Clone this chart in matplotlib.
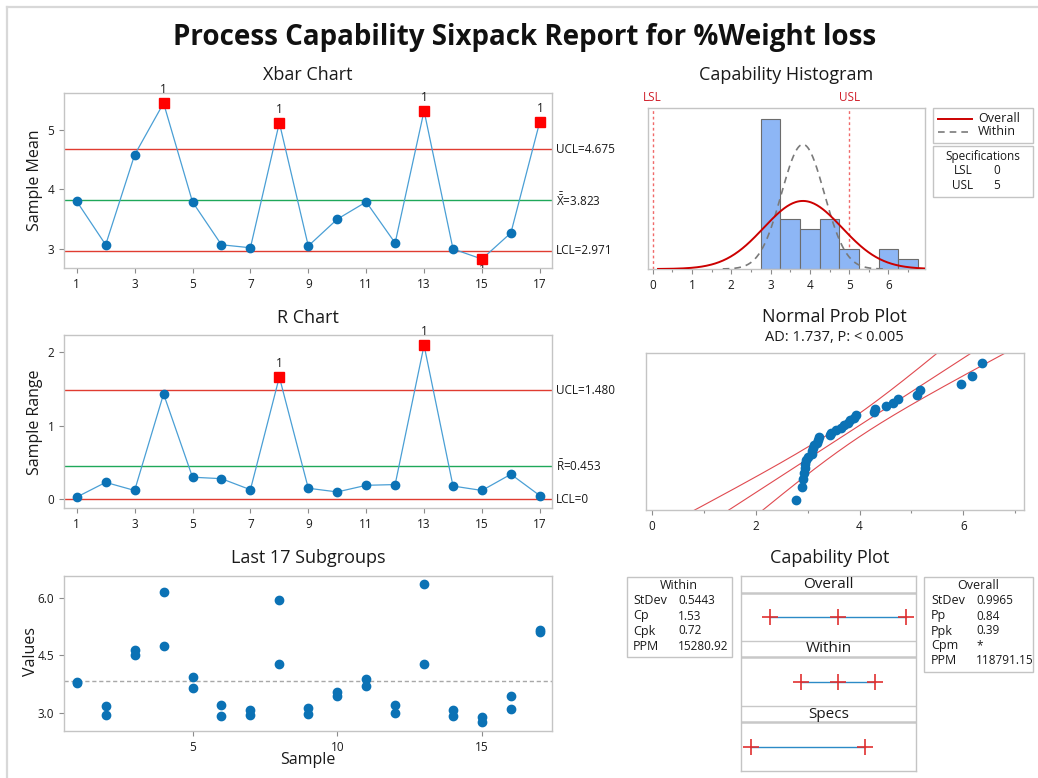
import math
from statistics import NormalDist

import numpy as np
import matplotlib
matplotlib.use("Agg")
import matplotlib.pyplot as plt
from matplotlib.patches import Rectangle

# ---------------------------------------------------------------- data
subgroup = np.arange(1, 18)
obs_a = [3.815, 3.185, 4.64, 6.165, 3.94, 3.21, 3.085, 5.95, 3.125,
         3.55, 3.885, 3.20, 6.365, 3.09, 2.89, 3.44, 5.165]
obs_b = [3.785, 2.955, 4.52, 4.735, 3.64, 2.93, 2.955, 4.29, 2.975,
         3.45, 3.695, 3.00, 4.275, 2.91, 2.77, 3.10, 5.115]

xbar_ucl, xbar_cl, xbar_lcl = 4.675, 3.823, 2.971
r_ucl, r_cl, r_lcl = 1.480, 0.453, 0.0
lsl, usl = 0, 5
sd_within, sd_overall = 0.5443, 0.9965
ad_stat, ad_p = "1.737", "< 0.005"

within_stats = [("StDev", "0.5443"), ("Cp", "1.53"), ("Cpk", "0.72"),
                ("PPM", "15280.92")]
overall_stats = [("StDev", "0.9965"), ("Pp", "0.84"), ("Ppk", "0.39"),
                 ("Cpm", "*"), ("PPM", "118791.15")]

# ---------------------------------------------------------------- style
FONT = ["Open Sans", "DejaVu Sans"]
plt.rcParams["font.family"] = FONT
plt.rcParams["mathtext.fontset"] = "custom"
plt.rcParams["mathtext.rm"] = "Open Sans"
plt.rcParams["mathtext.it"] = "Open Sans"

BLUE_PT = "#0B72B5"
BLUE_LN = "#4A9FD5"
RED_LIM = "#E03C31"
GREEN_CL = "#1FA85A"
SPINE = "#C4C4C4"
TXT = "#1A1A1A"

W, H = 1038, 778
fig = plt.figure(figsize=(W / 100, H / 100), dpi=100)


def rect(l, t, r, b):
    return [l / W, 1 - b / H, (r - l) / W, (b - t) / H]


def style(ax, labelsize=8.5):
    for s in ax.spines.values():
        s.set_color(SPINE)
        s.set_linewidth(1.0)
    ax.tick_params(colors="#8C8C8C", labelcolor=TXT, labelsize=labelsize,
                   length=3.5, width=0.8)
    ax.tick_params(which="minor", colors="#8C8C8C", length=2.5, width=0.8)


# overlay for free-floating text, boxes and frame
ov = fig.add_axes([0, 0, 1, 1], zorder=0)
ov.set_xlim(0, W)
ov.set_ylim(H, 0)
ov.axis("off")


def ptext(x, y, s, **kw):
    kw.setdefault("ha", "center")
    kw.setdefault("va", "center")
    kw.setdefault("color", TXT)
    ov.text(x, y, s, **kw)


ov.plot([7, W], [6.5, 6.5], color="#D8D8D8", lw=1.6)
ov.plot([7, 7], [6.5, H], color="#D8D8D8", lw=1.6)

ptext(525, 37, "Process Capability Sixpack Report for %Weight loss",
      fontsize=20, fontweight="bold", color="#111111")

means = (np.array(obs_a) + np.array(obs_b)) / 2
ranges = np.abs(np.array(obs_a) - np.array(obs_b))

XLIM = (0.56, 17.42)
odd_ticks = np.arange(1, 18, 2)


def control_chart(ax, values, ucl, cl, lcl, ylim, yticks, cl_label,
                  ucl_fmt, lcl_fmt):
    ax.plot(subgroup, values, color=BLUE_LN, lw=0.9, zorder=2)
    ax.axhline(ucl, color=RED_LIM, lw=1.0, zorder=1)
    ax.axhline(lcl, color=RED_LIM, lw=1.0, zorder=1)
    ax.axhline(cl, color=GREEN_CL, lw=1.0, zorder=1)
    bad = (values > ucl) | (values < lcl)
    ax.plot(subgroup[~bad], values[~bad], "o", color=BLUE_PT, ms=6,
            zorder=3)
    ax.plot(subgroup[bad], values[bad], "s", color="#FF0000", ms=6.5,
            zorder=4)
    for x, v in zip(subgroup[bad], values[bad]):
        if v > ucl:
            ax.annotate("1", (x, v), xytext=(0, 5), textcoords="offset points",
                        ha="center", va="bottom", fontsize=8.5, color=TXT)
        else:
            t = ax.text(x, v, "1", ha="center", va="top", fontsize=8.5,
                        color=TXT, clip_on=True)
            t.set_position((x, v - 0.06))
    ax.set_xlim(*XLIM)
    ax.set_ylim(*ylim)
    ax.set_xticks(odd_ticks)
    ax.set_yticks(yticks)
    style(ax)
    for val, lab in ((ucl, ucl_fmt), (cl, cl_label), (lcl, lcl_fmt)):
        ax.annotate(lab, (1, val), xycoords=("axes fraction", "data"),
                    xytext=(3, 0), textcoords="offset points",
                    ha="left", va="center", fontsize=8.5, color=TXT)


# ---------------------------------------------------------------- Xbar
ax_x = fig.add_axes(rect(64, 93, 552, 268))
control_chart(ax_x, means, xbar_ucl, xbar_cl, xbar_lcl, (2.68, 5.62),
              [3, 4, 5], r"$\bar{\bar{\mathrm{X}}}$" + f"={xbar_cl:.3f}",
              f"UCL={xbar_ucl:.3f}", f"LCL={xbar_lcl:.3f}")
ptext(308, 75, "Xbar Chart", fontsize=13)
ptext(35, 180, "Sample Mean", fontsize=11.5, rotation=90)

# ---------------------------------------------------------------- R
ax_r = fig.add_axes(rect(64, 335, 552, 508))
control_chart(ax_r, ranges, r_ucl, r_cl, r_lcl, (-0.118, 2.23),
              [0, 1, 2], r"$\bar{\mathrm{R}}$" + f"={r_cl:.3f}",
              f"UCL={r_ucl:.3f}", "LCL=0")
ptext(308, 318, "R Chart", fontsize=13)
ptext(35, 422, "Sample Range", fontsize=11.5, rotation=90)

# ---------------------------------------------------------------- last subgroups
ax_l = fig.add_axes(rect(64, 576, 552, 731))
ax_l.plot(subgroup, obs_a, "o", color=BLUE_PT, ms=6, zorder=3)
ax_l.plot(subgroup, obs_b, "o", color=BLUE_PT, ms=6, zorder=3)
ax_l.axhline(xbar_cl, color="#A8A8A8", lw=1.0, ls=(0, (3, 2)), zorder=1)
ax_l.set_xlim(*XLIM)
ax_l.set_ylim(2.53, 6.574)
ax_l.set_xticks([5, 10, 15])
ax_l.set_yticks([3.0, 4.5, 6.0])
ax_l.set_yticklabels(["3.0", "4.5", "6.0"])
style(ax_l)
ptext(308, 558, "Last 17 Subgroups", fontsize=13)
ptext(31, 652, "Values", fontsize=11.5, rotation=90)
ptext(308, 760, "Sample", fontsize=11.5)

# ---------------------------------------------------------------- histogram
all_obs = np.array(obs_a + obs_b)
n_obs = len(all_obs)
bin_w = 0.5
bins = np.arange(2.75, 6.76, bin_w)
ax_h = fig.add_axes(rect(648, 108, 925, 269))
ax_h.hist(all_obs, bins=bins, color="#8DB6F5", edgecolor="#6C6C6C", lw=0.8,
          zorder=2)


def npdf(x, mu, sd):
    return np.exp(-0.5 * ((x - mu) / sd) ** 2) / (sd * math.sqrt(2 * math.pi))


xs_o = np.linspace(xbar_cl - 3.7 * sd_overall, xbar_cl + 3.7 * sd_overall, 300)
xs_w = np.linspace(xbar_cl - 3.75 * sd_within, xbar_cl + 3.75 * sd_within, 300)
ax_h.plot(xs_w, n_obs * bin_w * npdf(xs_w, xbar_cl, sd_within),
          color="#7A7A7A", lw=1.2, ls=(0, (4, 3)), zorder=3)
ax_h.plot(xs_o, n_obs * bin_w * npdf(xs_o, xbar_cl, sd_overall),
          color="#CC0000", lw=1.4, zorder=4)
for spec, lab in ((lsl, "LSL"), (usl, "USL")):
    ax_h.axvline(spec, color="#F06A6A", lw=1.0, ls=(0, (2, 2)), zorder=1)
    ax_h.annotate(lab, (spec, 1), xycoords=("data", "axes fraction"),
                  xytext=(0, 3), textcoords="offset points", ha="center",
                  va="bottom", fontsize=8.5, color="#D01F2A")
ax_h.set_xlim(-0.12, 6.93)
ax_h.set_ylim(0, 16.1)
ax_h.set_xticks(range(0, 7))
ax_h.set_xticks(np.arange(0.5, 7, 1.0), minor=True)
ax_h.set_yticks([])
style(ax_h)
ptext(786, 75, "Capability Histogram", fontsize=13)

# legend boxes
ov.add_patch(Rectangle((933, 108), 100, 35, fill=False, ec=SPINE, lw=1.0))
ov.plot([938, 972], [119, 119], color="#CC0000", lw=1.4)
ov.plot([938, 972], [131.5, 131.5], color="#7A7A7A", lw=1.2, ls=(0, (4, 3)))
ptext(978, 118.5, "Overall", fontsize=9, ha="left")
ptext(978, 131, "Within", fontsize=9, ha="left")
ov.add_patch(Rectangle((933, 146), 100, 51, fill=False, ec=SPINE, lw=1.0))
ptext(983, 156, "Specifications", fontsize=8.5)
ptext(963, 170, "LSL", fontsize=8.5)
ptext(997, 170, f"{lsl}", fontsize=8.5)
ptext(963, 185.5, "USL", fontsize=8.5)
ptext(997, 185.5, f"{usl}", fontsize=8.5)

# ---------------------------------------------------------------- normal probability plot
nd = NormalDist()
sorted_obs = np.sort(all_obs)
zq = np.array([nd.inv_cdf((i - 0.3) / (n_obs + 0.4)) for i in range(1, n_obs + 1)])
ax_n = fig.add_axes(rect(646, 353, 1024, 510))
zz = np.linspace(-3, 3, 200)
fit = xbar_cl + zz * sd_overall
half = 1.96 * sd_overall * np.sqrt(1 / n_obs + zz ** 2 / (2 * (n_obs - 1)))
for xline in (fit, fit - half, fit + half):
    ax_n.plot(xline, zz, color="#E04A50", lw=0.8, zorder=1)
ax_n.plot(sorted_obs, zq, "o", color=BLUE_PT, ms=6, zorder=3)
ax_n.set_xlim(-0.115, 7.17)
ax_n.set_ylim(-2.35, 2.34)
ax_n.set_xticks([0, 2, 4, 6])
ax_n.set_xticks([1, 3, 5, 7], minor=True)
ax_n.set_yticks([])
style(ax_n)
ptext(834, 317, "Normal Prob Plot", fontsize=13)
ptext(834, 337, f"AD: {ad_stat}, P: {ad_p}", fontsize=10.5)

# ---------------------------------------------------------------- capability plot
ptext(830, 558, "Capability Plot", fontsize=13)
ax_c = fig.add_axes(rect(741, 576, 916, 771))
ax_c.set_xlim(-0.45, 7.24)
ax_c.set_ylim(195, 0)
ax_c.set_xticks([])
ax_c.set_yticks([])
style(ax_c)
for yl in (16.7, 81.3, 146.3):
    ax_c.axhline(yl, color="#C8C8C8", lw=1.8)
for yl in (65, 130):
    ax_c.axhline(yl, color="#C8C8C8", lw=1.0)

intervals = [
    ("Overall", 8.3, 41.3, [xbar_cl - 3 * sd_overall, xbar_cl, xbar_cl + 3 * sd_overall]),
    ("Within", 73.0, 106.3, [xbar_cl - 3 * sd_within, xbar_cl, xbar_cl + 3 * sd_within]),
    ("Specs", 138.0, 170.7, [lsl, usl]),
]
for name, yh, yline, pts in intervals:
    ax_c.text(np.mean(ax_c.get_xlim()), yh, name, ha="center", va="center",
              fontsize=11, color=TXT)
    ax_c.plot([pts[0], pts[-1]], [yline, yline], color="#2C8AC6", lw=1.0,
              zorder=2)
    ax_c.plot(pts, [yline] * len(pts), "+", color="#E03030", ms=11, mew=1.2,
              zorder=3)

# statistic boxes
ov.add_patch(Rectangle((627, 577), 105, 80, fill=False, ec=SPINE, lw=1.0))
ptext(679, 585.5, "Within", fontsize=9)
for i, (k, v) in enumerate(within_stats):
    ptext(633, 601 + 15 * i, k, fontsize=9, ha="left")
    ptext(678, 601 + 15 * i, v, fontsize=8.5, ha="left")

ov.add_patch(Rectangle((924, 577), 109, 95, fill=False, ec=SPINE, lw=1.0))
ptext(978, 585.5, "Overall", fontsize=9)
for i, (k, v) in enumerate(overall_stats):
    ptext(931, 601 + 15 * i, k, fontsize=9, ha="left")
    ptext(976, 601 + 15 * i, v, fontsize=8.5, ha="left")

fig.savefig("out.png", dpi=100, facecolor="white")
